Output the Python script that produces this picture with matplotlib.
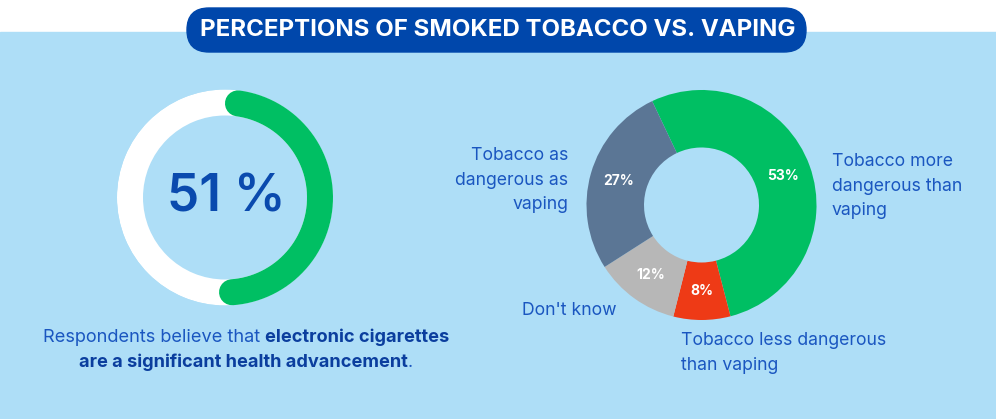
import numpy as np
import matplotlib
matplotlib.use("Agg")
import matplotlib.pyplot as plt
from matplotlib.patches import Rectangle, FancyBboxPatch

# ---- data ----
title = "PERCEPTIONS OF SMOKED TOBACCO VS. VAPING"
gauge_value = 51
gauge_label = "51 %"
caption_line1 = [("Respondents believe that", "normal"), ("electronic cigarettes", "bold")]
caption_line2 = [("are a significant health advancement", "bold"), (".", "normal")]
categories = ["Tobacco more\ndangerous than\nvaping", "Tobacco less dangerous\nthan vaping",
              "Don't know", "Tobacco as\ndangerous as\nvaping"]
values = [53, 8, 12, 27]
colors = ["#00BF63", "#EE3A16", "#B7B7B7", "#5B7695"]

BG = "#AEDEF7"
DARK = "#0047AB"
TXT = "#1A56C0"
FONT = "Inter"

W, H = 996, 419
fig = plt.figure(figsize=(W / 100, H / 100), dpi=100, facecolor="white")

# overlay axes in pixel coordinates
ov = fig.add_axes([0, 0, 1, 1])
ov.set_xlim(0, W)
ov.set_ylim(H, 0)
ov.axis("off")
ov.add_patch(Rectangle((0, 32), W, H - 32, color=BG, zorder=0))
ov.add_patch(FancyBboxPatch((165 + 22, 8), 663 - 44, 44,
                            boxstyle="round,pad=0,rounding_size=22",
                            mutation_aspect=1, color=DARK, zorder=1))
ov.text(497.5, 30.5, title, color="white", fontsize=17.3, fontweight="bold",
        family=FONT, ha="center", va="center", zorder=2)

# ---- gauge (polar) ----
cx, cy, R = 225, 197.5, 108
gax = fig.add_axes([(cx - R) / W, (H - cy - R) / H, 2 * R / W, 2 * R / H],
                   projection="polar")
gax.set_theta_zero_location("N")
gax.set_theta_direction(-1)
gax.set_ylim(0, 1)
gax.axis("off")
gax.patch.set_alpha(0)
ring_w = 26 / R
r_mid = 1 - ring_w / 2
gax.bar(0, ring_w, width=2 * np.pi, bottom=1 - ring_w, color="white",
        edgecolor="none", align="edge")
cap = (ring_w / 2) / r_mid  # angle taken by a round cap
theta = np.linspace(cap, gauge_value / 100 * 2 * np.pi - cap, 300)
gax.plot(theta, np.full_like(theta, r_mid), color=colors[0],
         lw=26 * 0.72, solid_capstyle="round", clip_on=False)
ov.text(cx + 1, cy, gauge_label, color="#0A4AAE", fontsize=37, fontweight="semibold",
        family=FONT, ha="center", va="center", zorder=3)

# ---- caption with mixed weights ----
renderer = fig.canvas.get_renderer()
cap_fs = 13.1


def width_of(s, weight):
    t = ov.text(0, 0, s, fontsize=cap_fs, fontweight=weight, family=FONT)
    w = t.get_window_extent(renderer).width
    t.remove()
    return w


def draw_line(pieces, xc, y, spaced):
    sp = width_of("x x", "normal") - width_of("xx", "normal")
    widths = [width_of(s, wt) for s, wt in pieces]
    total = sum(widths) + sp * sum(spaced)
    x = xc - total / 2
    for (s, wt), w, gap in zip(pieces, widths, spaced + [False]):
        ov.text(x, y, s, fontsize=cap_fs, fontweight=wt, family=FONT,
                color=TXT if wt == "normal" else "#0B3E9E",
                ha="left", va="center")
        x += w + (sp if gap else 0)


draw_line(caption_line1, 246, 337, [True])
draw_line(caption_line2, 246, 362, [False])

# ---- donut ----
dcx, dcy, DR = 701.5, 205, 115
dax = fig.add_axes([(dcx - DR) / W, (H - dcy - DR) / H, 2 * DR / W, 2 * DR / H])
wedges, texts, autotexts = dax.pie(
    values, colors=colors, startangle=115.4, counterclock=False,
    wedgeprops=dict(width=0.5, edgecolor="none"),
    autopct="%.0f%%", pctdistance=0.75,
    textprops=dict(color="white", fontsize=10, fontweight="bold", family=FONT))
dax.set_xlim(-1, 1)
dax.set_ylim(-1, 1)

lab_fs = 12.7
ls = 1.58
ov.text(832, 186, categories[0], color=TXT, fontsize=lab_fs, family=FONT,
        ha="left", va="center", linespacing=ls)
ov.text(681, 353, categories[1], color=TXT, fontsize=lab_fs, family=FONT,
        ha="left", va="center", linespacing=ls)
ov.text(617, 310, categories[2], color=TXT, fontsize=lab_fs, family=FONT,
        ha="right", va="center", linespacing=ls)
ov.text(568, 180, categories[3], color=TXT, fontsize=lab_fs, family=FONT,
        ha="right", va="center", linespacing=ls, multialignment="right")

fig.savefig("out.png", dpi=100, facecolor="white")
